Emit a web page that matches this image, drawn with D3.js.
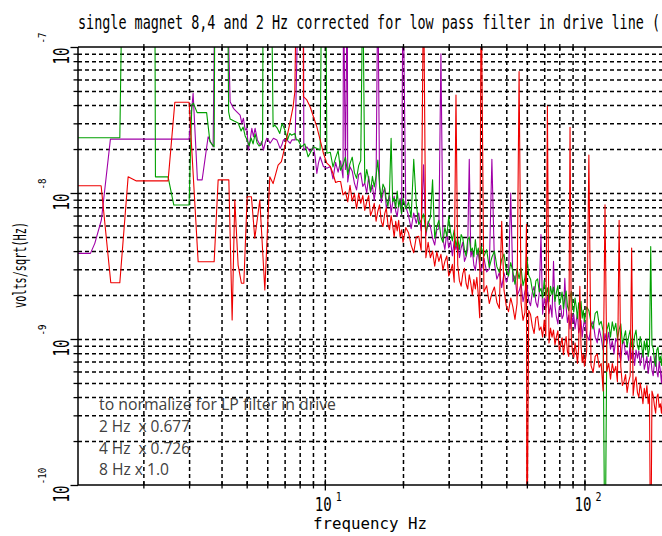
<!DOCTYPE html>
<html><head><meta charset="utf-8">
<script src="https://cdn.jsdelivr.net/npm/d3@7"></script>
<style>body{margin:0;background:#fff}svg{display:block}</style>
</head><body>
<svg id="chart" width="662" height="536"></svg>
<script>
// ---------------- DATA (amplitudes in nV/sqrt(Hz), frequencies in Hz) ----------------
const NV = 1e-9;
const title = "single magnet 8,4 and 2 Hz corrected for low pass filter in drive line (";
const xLabel = "frequency Hz";
const yLabel = "volts/sqrt(Hz)";
const xMajorTicks = [10, 100];
const xMajorExp = ["1", "2"];
const yMajorTicks = [1e-10, 1e-9, 1e-8, 1e-7];
const yMajorExp = ["-10", "-9", "-8", "-7"];
const xGridTicks = [2,3,4,5,6,7,8,9,10,20,30,40,50,60,70,80,90,100,200];
const yGridTicks = [1e-10,2e-10,3e-10,4e-10,5e-10,6e-10,7e-10,8e-10,9e-10,
                    1e-9,2e-9,3e-9,4e-9,5e-9,6e-9,7e-9,8e-9,9e-9,
                    1e-8,2e-8,3e-8,4e-8,5e-8,6e-8,7e-8,8e-8,9e-8,1e-7];
const noteLines = ["to normalize for LP filter in drive", "2 Hz  x 0.677", "4 Hz  x 0.726", "8 Hz x 1.0"];

// low-frequency part (sparse bins)  [f, nV]
const greenLow = [[1.121,23.9],[1.623,23.9],[1.657,300],[2.214,300],[2.226,12.9],[2.49,12.9],[2.62,8.27],[3.0,8.27],
 [3.073,40.1],[3.117,41.2],[3.222,35.5],[3.505,35.5],[3.609,22.5],[3.747,20.7],[3.773,300],[4.222,300],[4.26,35.9],
 [4.317,32.1],[4.472,31.1],[4.634,30.2],[4.759,26.6],[4.844,28.3],[4.932,24.6],[5.021,23.1],[5.11,21.0],[5.2,23.8],
 [5.293,21.7],[5.387,25.4],[5.484,22.0],[5.582,21.0],[5.682,21.3],[5.759,23.1],[5.784,300],[6.225,300],[6.32,28.4],
 [6.416,29.2],[6.566,27.7],[6.707,25.6],[6.845,30.0],[7.015,27.0],[7.18,23.1],[7.331,25.6],[7.44,24.9],[7.664,25.6],
 [7.773,23.1],[7.891,23.1],[8.127,20.7],[8.375,21.7],[8.623,17.7],[8.911,19.7],[9.04,20.7],[9.316,20.2],[9.592,19.7],
 [9.721,300],[10.09,300],[10.18,18.7]];
const purpleLow = [[1.121,3.86],[1.251,3.86],[1.30,4.52],[1.378,6.53],[1.493,23.4],[3.0,23.4],[3.109,48.2],[3.23,12.3],
 [3.368,12.3],[3.552,24.3],[3.713,20.7],[3.773,300],[4.204,300],[4.317,42.2],[4.445,38.0],[4.581,36.0],[4.717,34.2],
 [4.79,30.0],[4.857,32.5],[4.932,27.0],[5.007,27.7],[5.079,19.7],[5.156,23.1],[5.234,27.7],[5.309,24.3],[5.387,27.7],
 [5.499,23.1],[5.632,21.3],[5.717,22.5],[5.799,19.7],[5.888,21.9],[5.976,23.7],[6.061,23.1],[6.154,21.9],[6.339,23.7],
 [6.532,23.1],[6.725,20.2],[6.828,21.3],[6.925,23.1],[7.14,23.1],[7.353,21.9],[7.465,23.1],[7.686,23.1],[7.914,300],
 [8.272,300],[8.30,19.7],[8.524,20.7],[8.776,19.2],[9.04,20.7],[9.176,17.7],[9.316,13.6],[9.447,16.0],[9.592,17.7],
 [9.876,15.2],[10.18,14.8]];
const redLow = [[1.121,11.2],[1.375,11.2],[1.498,2.43],[1.623,2.43],[1.747,12.9],[1.88,12.1],[2.49,12.1],[2.644,41.8],
 [3.0,41.8],[3.251,3.38],[3.747,3.38],[3.882,12.3],[4.268,12.3],[4.395,1.35],[4.5,8.96],[4.634,3.21],[4.771,2.41],
 [4.875,2.41],[5.021,9.43],[5.215,9.43],[5.373,4.9],[5.617,8.96],[5.873,2.17],[6.137,12.9],[6.32,11.6],[6.607,15.5],
 [6.803,16.4],[7.015,20.7],[7.331,30.0],[7.547,39.0],[7.664,49.4],[7.773,300],[8.25,300],[8.272,45.7],[8.524,43.4],
 [8.776,39.0],[9.04,33.3],[9.316,28.4],[9.592,23.1],[9.876,18.7],[10.18,16.0]];

// high-frequency part (dense bins)
const hfFreq = [10.5,10.75,11,11.25,11.5,11.75,12,12.25,12.5,12.75,13,13.25,13.5,13.75,14,14.25,14.5,14.75,15,15.25,
 15.5,15.75,16,16.25,16.5,16.75,17,17.25,17.5,17.75,18,18.25,18.5,18.75,19,19.25,19.5,19.75,20,
 20.5,21,21.5,22,22.5,23,23.5,24,24.5,25,25.5,26,26.5,27,27.5,28,28.5,29,29.5,30,30.5,31,31.5,32,32.5,33,33.5,34,34.5,35,
 35.5,36,36.5,37,37.5,38,38.5,39,39.5,40,
 41,42,43,44,45,46,47,48,49,50,51,52,53,54,55,56,57,58,59,60,61,62,63,64,65,66,67,68,69,70,
 71,72,73,74,75,76,77,78,79,80,81,82,83,84,85,86,87,88,89,90,91,92,93,94,95,96,97,98,99,100,
 102,104,106,108,110,112,114,116,118,120,122,124,126,128,130,132,134,136,138,140,142,144,146,148,150,
 152,154,156,158,160,162,164,166,168,170,172,174,176,178,180,182,184,186,188,190,192,194,196,198,200];
const greenHF = [19,15.1,17.4,19.5,14.3,15.6,17.6,13.4,15.9,17.6,13.8,12.6,15.4,16.7,12.8,11.7,14.5,12.4,10.2,13.0,
 11.0,13.0,9.9,11.2,9.2,11.5,10.8,9.0,8.1,10.4,10.7,8.7,9.2,7.9,10.3,8.0,9.0,7.2,9.2,
 7.8,8.7,6.8,7.8,8.4,6.1,6.5,7.2,5.4,6.2,6.8,5.3,4.9,5.9,6.5,5.0,4.6,5.8,5.05,4.2,5.4,4.7,5.6,4.3,4.9,4.1,5.2,4.9,4.1,3.7,
 4.8,5.0,4.0,4.2,3.65,4.8,3.8,4.2,3.4,4.3,
 3.69,4.09,3.09,3.63,4.0,3.13,2.86,3.51,3.82,2.95,2.7,3.34,2.89,2.37,3.04,2.59,3.06,2.32,2.63,2.16,
 2.73,2.57,2.15,1.93,2.5,2.58,2.1,2.22,1.91,2.52,1.98,2.24,1.8,2.3,2.01,2.27,1.81,2.09,2.32,1.72,
 1.87,2.1,1.61,1.91,2.13,1.68,1.56,1.93,2.12,1.66,1.53,1.91,1.66,1.38,1.77,1.53,1.81,1.39,1.58,1.31,
 1.66,1.56,1.3,1.17,1.5,1.55,1.25,1.32,1.13,0.02,1.15,1.29,1.03,1.31,1.14,1.28,1.01,1.16,1.27,0.93,
 1.02,1.14,0.88,1.04,1.15,0.91,0.84,1.05,1.15,0.9,0.84,1.04,0.91,0.75,0.97,0.84,1.0,0.76,0.86,0.71,
 0.91,0.86,0.72,0.65,0.84,0.88,0.71,0.76,0.66,0.87];
const purpleHF = [15.2,12.5,16.2,13.9,16.6,12.7,14.5,11.9,15.1,14.1,11.7,10.5,13.4,13.7,11.1,11.7,10.0,13.0,10.1,11.3,
 8.9,11.3,9.8,11.0,8.6,9.9,10.9,7.9,8.6,9.6,7.3,8.6,9.5,7.5,6.9,8.4,9.2,7.1,6.6,
 8.1,7.0,5.7,7.3,6.2,7.3,5.5,6.2,5.1,6.4,5.9,4.9,4.4,5.6,5.7,4.6,4.85,4.1,5.4,4.2,4.7,3.7,4.7,4.1,4.6,3.6,4.2,4.6,3.4,3.65,
 4.1,3.1,3.65,4.05,3.2,2.95,3.6,4.0,3.1,2.9,
 3.58,2.88,3.01,2.55,3.31,2.57,2.85,2.25,2.84,2.45,2.74,2.16,2.47,2.71,1.98,2.13,2.38,1.8,2.12,2.35,
 1.84,1.69,2.1,2.29,1.79,1.65,2.06,1.79,1.48,1.91,1.64,1.96,1.49,1.71,1.41,1.79,1.68,1.41,1.27,1.65,
 1.7,1.38,1.46,1.26,1.66,1.3,1.46,1.17,1.5,1.3,1.47,1.17,1.34,1.5,1.1,1.2,1.34,1.03,1.21,1.36,
 1.07,0.98,1.21,1.32,1.03,0.94,1.18,1.02,0.84,1.09,0.93,1.11,0.85,0.97,0.79,1.01,0.95,0.79,0.71,0.93,
 0.96,0.78,0.83,0.71,0.94,0.73,0.83,0.66,0.84,0.74,0.83,0.66,0.76,0.84,0.62,0.68,0.76,0.58,0.68,0.76,
 0.61,0.56,0.69,0.77,0.6,0.55,0.7,0.61,0.5,0.66];
const redHF = [15.2,13.6,11.8,12.0,12.0,9.7,10.2,8.7,11.3,8.8,9.9,7.8,9.9,8.5,9.6,7.6,8.7,9.6,7.0,7.6,
 8.5,6.4,7.5,8.3,6.4,5.9,7.2,7.9,6.1,5.6,7.0,6.0,5.0,6.4,5.5,6.5,5.0,5.6,4.6,
 5.8,5.35,4.4,3.9,5.0,5.05,4.05,4.2,3.6,4.6,3.6,4.0,3.15,3.95,3.4,3.8,2.97,3.4,3.7,2.7,2.9,3.25,2.45,2.8,3.2,2.5,2.3,2.8,3.05,2.4,
 2.2,2.75,2.4,2.0,2.55,2.2,2.65,2.0,1.4,2.2,
 2.1,2.32,1.75,2.05,2.27,1.78,1.62,1.99,2.16,1.68,1.54,1.91,1.66,1.36,1.75,1.5,1.76,1.34,1.52,0.02,
 1.57,1.47,1.22,1.09,1.4,1.43,1.15,1.21,1.03,1.35,1.05,1.18,0.94,1.19,1.03,1.15,0.91,1.04,1.14,0.84,
 0.91,1.02,0.78,0.93,1.04,0.82,0.76,0.94,1.03,0.81,0.75,0.94,0.82,0.68,0.88,0.76,0.9,0.69,0.79,0.65,
 0.83,0.78,0.66,0.59,0.76,0.79,0.64,0.68,0.44,0.77,0.6,0.68,0.53,0.68,0.59,0.65,0.51,0.59,0.65,0.48,
 0.51,0.57,0.43,0.51,0.56,0.44,0.41,0.51,0.55,0.43,0.4,0.5,0.435,0.36,0.46,0.4,0.48,0.36,0.42,0.02,
 0.44,0.41,0.35,0.31,0.4,0.42,0.34,0.36,0.31,0.41];

// line harmonics (spikes)  [f, nV]
const greenSpikes = [[14,300],[16,16.8],[18,23.7],[22,17],[26,12.3],[30,6.9],[60,3.66],[180,4.3]];
const purpleSpikes = [[11.8,300],[12.2,300],[16,300],[20,300],[24,15.6],[28,90],[36,17],[44,17],[52,10],[68,5.2],[76,3.4],[84,2.6]];
const redSpikes = [[24,300],[32,46.9],[40,300],[48,6.4],[56,67.8],[59.8,6.1],[72,39.4],[88,28.2],[96,2.3],[104,18.2],[120,8.3],[136,6.5],[152,4.2]];

// ---------------- CHART ----------------
const svg = d3.select("#chart");
const L = 78, T = 47, R = 662.6, B = 485;
const x = d3.scaleLog().domain([1.12, 200]).range([L, R]);
const y = d3.scaleLog().domain([1e-10, 1e-7]).range([B, T]);
const mono = "'DejaVu Sans Mono', monospace";

svg.append("rect").attr("width", 662).attr("height", 536).attr("fill", "#fff");
svg.append("defs").append("clipPath").attr("id", "plot")
  .append("rect").attr("x", L).attr("y", T).attr("width", R - L).attr("height", B - T);

// dashed grid via axes
const gx = svg.append("g").attr("transform", `translate(0,${B})`)
  .call(d3.axisBottom(x).tickValues(xGridTicks).tickSize(-(B - T)).tickFormat(""));
const gy = svg.append("g").attr("transform", `translate(${L},0)`)
  .call(d3.axisLeft(y).tickValues(yGridTicks.filter(v => v > 1e-10 && v < 1e-7)).tickSize(-(R - L)).tickFormat(""));
[gx, gy].forEach(g => {
  g.select(".domain").remove();
  g.selectAll(".tick line").attr("stroke", "#000").attr("stroke-width", 1.5).attr("stroke-dasharray", "4,3");
});

function build(low, amps, spikes) {
  const sf = new Set(spikes.map(d => d[0]));
  const hf = hfFreq.map((f, i) => [f, amps[i]]).filter(d => !sf.has(d[0]));
  return low.concat(hf, spikes).sort((a, b) => a[0] - b[0]).map(d => ({ f: d[0], v: d[1] * NV }));
}
const series = [
  { data: build(purpleLow, purpleHF, purpleSpikes), color: "#a000a8" },
  { data: build(greenLow, greenHF, greenSpikes), color: "#00a000" },
  { data: build(redLow, redHF, redSpikes), color: "#ee0000" }
];
const line = d3.line().x(d => x(d.f)).y(d => y(d.v));
const gl = svg.append("g").attr("clip-path", "url(#plot)");
series.forEach(s => gl.append("path").datum(s.data).attr("d", line)
  .attr("fill", "none").attr("stroke", s.color).attr("stroke-width", 1.1).attr("stroke-linejoin", "round"));

// frame
svg.append("line").attr("x1", L).attr("x2", L).attr("y1", T).attr("y2", B).attr("stroke", "#000").attr("stroke-width", 1.5);
svg.append("line").attr("x1", L).attr("x2", 662).attr("y1", B).attr("y2", B).attr("stroke", "#000").attr("stroke-width", 1.5);
svg.append("line").attr("x1", L).attr("x2", 662).attr("y1", T).attr("y2", T).attr("stroke", "#000").attr("stroke-width", 1.5);

// tick marks via axes
const minorX = xGridTicks.filter(v => !xMajorTicks.includes(v));
function tickAxis(gen, vals, size, tr) {
  const g = svg.append("g").attr("transform", tr).call(gen.tickValues(vals).tickSize(size).tickFormat(""));
  g.select(".domain").remove();
  g.selectAll(".tick line").attr("stroke", "#000").attr("stroke-width", 1.3);
  return g;
}
tickAxis(d3.axisBottom(x), minorX, 3.5, `translate(0,${B})`);
tickAxis(d3.axisTop(x), minorX, 3.5, `translate(0,${B})`);
tickAxis(d3.axisBottom(x), xMajorTicks, 5.5, `translate(0,${B})`);
tickAxis(d3.axisTop(x), xMajorTicks, 5.5, `translate(0,${B})`);
tickAxis(d3.axisBottom(x), minorX, 3, `translate(0,${T})`);
tickAxis(d3.axisTop(x), minorX, 3, `translate(0,${T})`);
tickAxis(d3.axisLeft(y), yGridTicks.filter(v => !yMajorTicks.includes(v)), 4.5, `translate(${L},0)`);
tickAxis(d3.axisLeft(y), yMajorTicks, 7.5, `translate(${L},0)`);

// x tick labels
xMajorTicks.forEach((v, i) => {
  const px = x(v);
  svg.append("text").attr("x", px - 1.5).attr("y", 511).attr("text-anchor", "middle")
    .attr("font-family", mono).attr("font-size", 20).attr("textLength", 17).attr("lengthAdjust", "spacingAndGlyphs").text("10");
  svg.append("text").attr("x", px + 11).attr("y", 501)
    .attr("font-family", mono).attr("font-size", 13).attr("textLength", 6).attr("lengthAdjust", "spacingAndGlyphs").text(xMajorExp[i]);
});
// y tick labels (rotated)
yMajorTicks.forEach((v, i) => {
  const py = y(v);
  svg.append("text").attr("transform", `translate(68.5,${py + 9}) rotate(-90)`).attr("text-anchor", "middle")
    .attr("font-family", mono).attr("font-size", 22).attr("textLength", 17).attr("lengthAdjust", "spacingAndGlyphs").text("10");
  const e = yMajorExp[i];
  svg.append("text").attr("transform", `translate(46,${py - 9}) rotate(-90)`).attr("text-anchor", "middle")
    .attr("font-family", mono).attr("font-size", 11).attr("textLength", e.length * 5.5).attr("lengthAdjust", "spacingAndGlyphs").text(e);
});

// titles
svg.append("text").attr("x", 78).attr("y", 29).attr("font-family", mono).attr("font-size", 19)
  .attr("textLength", 582).attr("lengthAdjust", "spacingAndGlyphs").text(title);
svg.append("text").attr("x", 313).attr("y", 529).attr("font-family", mono).attr("font-size", 16)
  .attr("textLength", 114).attr("lengthAdjust", "spacingAndGlyphs").text(xLabel);
svg.append("text").attr("transform", "translate(26,265) rotate(-90)").attr("text-anchor", "middle")
  .attr("font-family", mono).attr("font-size", 18).attr("textLength", 86).attr("lengthAdjust", "spacingAndGlyphs").text(yLabel);

// note
const noteBase = [409.5, 431.5, 453.5, 475];
const noteLen = [237, 91, 91, 70];
noteLines.forEach((t, i) => {
  svg.append("text").attr("x", 99).attr("y", noteBase[i]).attr("font-family", "'Open Sans', sans-serif")
    .attr("font-size", 17).attr("fill", "#404040").style("white-space", "pre")
    .attr("textLength", noteLen[i]).attr("lengthAdjust", "spacingAndGlyphs").text(t);
});
</script>
</body></html>
